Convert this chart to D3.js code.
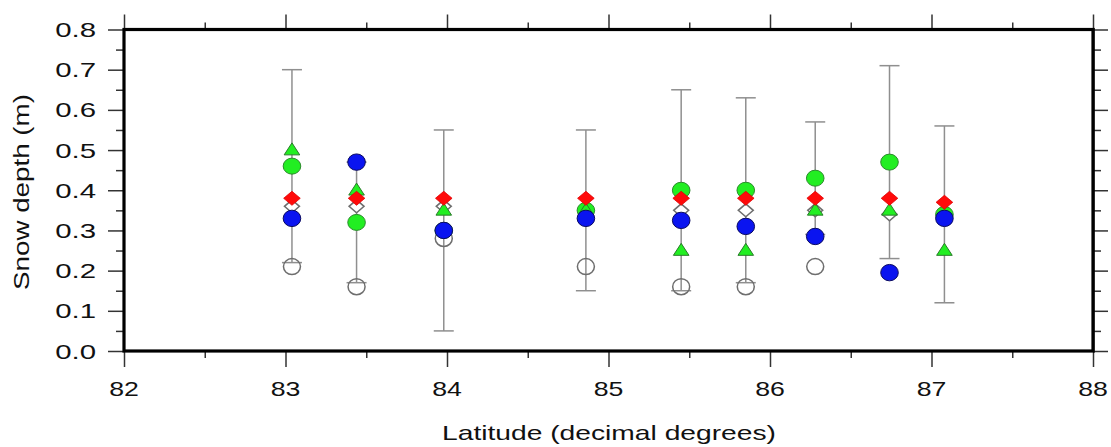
<!DOCTYPE html>
<html>
<head>
<meta charset="utf-8">
<script src="https://cdn.jsdelivr.net/npm/d3@7"></script>
<style>
  html, body { margin: 0; padding: 0; background: #fff; }
  text { font-family: "Liberation Sans", Arial, sans-serif; fill: #111; }
</style>
</head>
<body>
<svg id="chart" width="1111" height="447"></svg>
<script>
// ---- data ----
const latitude      = [83.04, 83.44, 83.98, 84.86, 85.45, 85.85, 86.28, 86.74, 87.08];
const meanDepth     = [0.46, 0.32, 0.30, 0.35, 0.40, 0.40, 0.43, 0.47, 0.34];   // green circles
const stdDev        = [0.24, 0.15, 0.25, 0.20, 0.25, 0.23, 0.14, 0.24, 0.22];   // error bars
const triangleDepth = [0.50, 0.40, 0.35, 0.35, 0.25, 0.25, 0.35, 0.35, 0.25];   // green triangles
const blueDepth     = [0.33, 0.47, 0.30, 0.33, 0.325, 0.31, 0.285, 0.195, 0.33]; // blue circles
const redDepth      = [0.38, 0.38, 0.38, 0.38, 0.38, 0.38, 0.38, 0.38, 0.37];   // red diamonds
const openDiamond   = [0.36, 0.36, 0.36, 0.35, 0.35, 0.35, 0.35, 0.34, 0.34];   // open diamonds
const openCircle    = [0.21, 0.16, 0.28, 0.21, 0.16, 0.16, 0.21, null, null];   // open circles
const xTicks = [82, 83, 84, 85, 86, 87, 88];
const yTicks = [0.0, 0.1, 0.2, 0.3, 0.4, 0.5, 0.6, 0.7, 0.8];

const svg = d3.select("#chart");
const L = 124, R = 1093, T = 29.5, B = 351;
const x = d3.scaleLinear().domain([82, 88]).range([L, R]);
const y = d3.scaleLinear().domain([0, 0.8]).range([B, T]);

const idx = latitude.map((_, i) => i);

// ---- axes (ticks) ----
const tickCol = "#333";
function addAxis(axisGen, transform) {
  const g = svg.append("g").attr("transform", transform).call(axisGen);
  g.select(".domain").remove();
  g.selectAll(".tick line").attr("stroke", tickCol).attr("stroke-width", 1.5);
  g.selectAll(".tick text").remove();
  return g;
}
const xMinor = d3.range(82.5, 88, 1);
const yMinor = d3.range(0.05, 0.8, 0.1);

addAxis(d3.axisBottom(x).tickValues(xTicks).tickSize(16), `translate(0,${B})`);
addAxis(d3.axisBottom(x).tickValues(xMinor).tickSize(7), `translate(0,${B})`);
addAxis(d3.axisTop(x).tickValues(xTicks).tickSize(15), `translate(0,${T})`);
addAxis(d3.axisTop(x).tickValues(xMinor).tickSize(7), `translate(0,${T})`);
addAxis(d3.axisLeft(y).tickValues(yTicks).tickSize(16), `translate(${L},0)`);
addAxis(d3.axisLeft(y).tickValues(yMinor).tickSize(8), `translate(${L},0)`);
addAxis(d3.axisRight(y).tickValues(yTicks).tickSize(15), `translate(${R},0)`);
addAxis(d3.axisRight(y).tickValues(yMinor).tickSize(8), `translate(${R},0)`);

// tick labels (horizontally stretched like the reference)
svg.append("g").selectAll("text").data(xTicks).join("text")
  .attr("transform", d => `translate(${x(d)},396) scale(1.27,1)`)
  .attr("text-anchor", "middle").attr("font-size", 21)
  .text(d => d3.format("d")(d));
svg.append("g").selectAll("text").data(yTicks).join("text")
  .attr("transform", d => `translate(96,${y(d) + 7.5}) scale(1.4,1)`)
  .attr("text-anchor", "end").attr("font-size", 21)
  .text(d => d3.format(".1f")(d));

// axis titles
svg.append("text")
  .attr("x", 609).attr("y", 439.5)
  .attr("text-anchor", "middle").attr("font-size", 21)
  .attr("textLength", 334).attr("lengthAdjust", "spacingAndGlyphs")
  .text("Latitude (decimal degrees)");
svg.append("text")
  .attr("transform", "translate(29,192) rotate(-90)")
  .attr("text-anchor", "middle").attr("font-size", 22)
  .attr("textLength", 196).attr("lengthAdjust", "spacingAndGlyphs")
  .text("Snow depth (m)");

// ---- error bars ----
const eb = svg.append("g").attr("stroke", "#8f8f8f").attr("stroke-width", 1.5).attr("fill", "none");
eb.selectAll("line.v").data(idx).join("line").attr("class", "v")
  .attr("x1", i => x(latitude[i])).attr("x2", i => x(latitude[i]))
  .attr("y1", i => y(meanDepth[i] - stdDev[i])).attr("y2", i => y(meanDepth[i] + stdDev[i]));
eb.selectAll("line.top").data(idx).join("line").attr("class", "top")
  .attr("x1", i => x(latitude[i]) - 10).attr("x2", i => x(latitude[i]) + 10)
  .attr("y1", i => y(meanDepth[i] + stdDev[i])).attr("y2", i => y(meanDepth[i] + stdDev[i]));
eb.selectAll("line.bot").data(idx).join("line").attr("class", "bot")
  .attr("x1", i => x(latitude[i]) - 10).attr("x2", i => x(latitude[i]) + 10)
  .attr("y1", i => y(meanDepth[i] - stdDev[i])).attr("y2", i => y(meanDepth[i] - stdDev[i]));

// ---- markers ----
const diamondPath = (cx, cy, w, h) => `M${cx},${cy - h}L${cx + w},${cy}L${cx},${cy + h}L${cx - w},${cy}Z`;
const trianglePath = (cx, cy, w, h) => `M${cx},${cy - h * 0.6}L${cx + w},${cy + h * 0.4}L${cx - w},${cy + h * 0.4}Z`;

svg.append("g").selectAll("ellipse").data(idx.filter(i => openCircle[i] != null)).join("ellipse")
  .attr("cx", i => x(latitude[i])).attr("cy", i => y(openCircle[i]))
  .attr("rx", 8.5).attr("ry", 8)
  .attr("fill", "none").attr("stroke", "#6e6e6e").attr("stroke-width", 1.5);
svg.append("g").selectAll("path").data(idx).join("path")
  .attr("d", i => diamondPath(x(latitude[i]), y(openDiamond[i]), 7.5, 6.5))
  .attr("fill", "#fff").attr("stroke", "#6e6e6e").attr("stroke-width", 1.5);
svg.append("g").selectAll("ellipse").data(idx).join("ellipse")
  .attr("cx", i => x(latitude[i])).attr("cy", i => y(meanDepth[i]))
  .attr("rx", 8.8).attr("ry", 8)
  .attr("fill", "#22ee22").attr("stroke", "#2b8a2b").attr("stroke-width", 1);
svg.append("g").selectAll("path").data(idx).join("path")
  .attr("d", i => trianglePath(x(latitude[i]), y(triangleDepth[i]), 7.8, 12))
  .attr("fill", "#22ee22").attr("stroke", "#2b7a2b").attr("stroke-width", 1);
svg.append("g").selectAll("ellipse").data(idx).join("ellipse")
  .attr("cx", i => x(latitude[i])).attr("cy", i => y(blueDepth[i]))
  .attr("rx", 8.8).attr("ry", 8.2)
  .attr("fill", "#0a14f0").attr("stroke", "#0a0a60").attr("stroke-width", 1);
svg.append("g").selectAll("path").data(idx).join("path")
  .attr("d", i => diamondPath(x(latitude[i]), y(redDepth[i]), 8.3, 7))
  .attr("fill", "#ff0a0a").attr("stroke", "#e00000").attr("stroke-width", 0.8);

// ---- frame ----
svg.append("rect")
  .attr("x", x(82)).attr("y", y(0.8))
  .attr("width", x(88) - x(82)).attr("height", y(0) - y(0.8))
  .attr("fill", "none").attr("stroke", "#000").attr("stroke-width", 3.2);
svg.append("line")
  .attr("x1", x(88) + 0.8).attr("x2", x(88) + 0.8).attr("y1", y(0.8) - 1.6).attr("y2", y(0) + 1.6)
  .attr("stroke", "#000").attr("stroke-width", 1.6);
</script>
</body>
</html>
